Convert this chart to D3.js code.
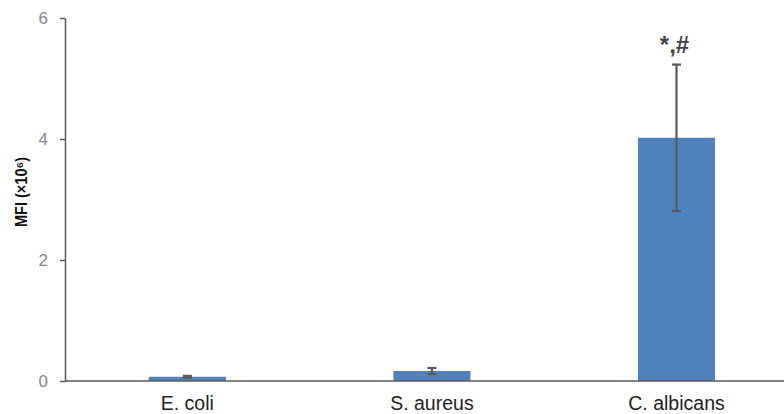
<!DOCTYPE html>
<html lang="en">
<head>
  <meta charset="UTF-8">
  <script src="https://cdn.jsdelivr.net/npm/d3@7"></script>
  <style>
    body { margin: 0; background: #fff; }
    svg { display: block; font-family: "Liberation Sans", Arial, sans-serif; }
    .axis path, .axis line { stroke: #595959; stroke-width: 1.5; }
    .y.axis text { fill: #888; font-size: 17px; }
    .x.axis text { fill: #222; font-size: 19.5px; }
  </style>
</head>
<body>
<div id="chart"></div>
<script>
  var categories = ["E. coli", "S. aureus", "C. albicans"];
  var means = [0.07, 0.165, 4.02];
  var errors = [0.015, 0.05, 1.21];
  var marks = ["", "", "*,#"];
  var yTicks = [0, 2, 4, 6];

  var width = 784, height = 414;
  var plotLeft = 65, plotTop = 18, plotBottom = 381;

  var svg = d3.select("#chart").append("svg")
    .attr("width", width)
    .attr("height", height);

  var x = d3.scaleBand()
    .domain(categories)
    .range([plotLeft, plotLeft + 3 * 244.6])
    .paddingInner(0.685)
    .paddingOuter(0.3425);

  var y = d3.scaleLinear()
    .domain([0, 6])
    .range([plotBottom, plotTop]);

  // bars
  svg.selectAll(".bar")
    .data(categories)
    .enter().append("rect")
    .attr("x", function(d) { return x(d); })
    .attr("width", x.bandwidth())
    .attr("y", function(d, i) { return y(means[i]); })
    .attr("height", function(d, i) { return plotBottom - y(means[i]); })
    .attr("fill", "#4f81bd");

  // error bars
  var err = svg.selectAll(".err")
    .data(categories)
    .enter().append("g")
    .attr("stroke", "#595959")
    .attr("stroke-width", 2.2);
  err.append("line")
    .attr("x1", function(d) { return x(d) + x.bandwidth() / 2; })
    .attr("x2", function(d) { return x(d) + x.bandwidth() / 2; })
    .attr("y1", function(d, i) { return y(means[i] + errors[i]); })
    .attr("y2", function(d, i) { return y(means[i] - errors[i]); });
  [1, -1].forEach(function(s) {
    err.append("line")
      .attr("x1", function(d) { return x(d) + x.bandwidth() / 2 - 4.5; })
      .attr("x2", function(d) { return x(d) + x.bandwidth() / 2 + 4.5; })
      .attr("y1", function(d, i) { return y(means[i] + s * errors[i]); })
      .attr("y2", function(d, i) { return y(means[i] + s * errors[i]); });
  });

  // significance marks
  svg.selectAll(".mark")
    .data(categories)
    .enter().append("text")
    .attr("x", function(d) { return x(d) + x.bandwidth() / 2 - 2; })
    .attr("y", function(d, i) { return y(means[i] + errors[i]) - 12; })
    .attr("text-anchor", "middle")
    .style("font-size", "24px")
    .style("font-weight", "bold")
    .style("fill", "#444")
    .text(function(d, i) { return marks[i]; });

  // axes
  svg.append("g")
    .attr("class", "y axis")
    .attr("transform", "translate(" + plotLeft + ",0)")
    .call(d3.axisLeft(y).tickValues(yTicks).tickFormat(d3.format("d"))
      .tickSize(5).tickSizeOuter(0).tickPadding(12));

  var xAxis = svg.append("g")
    .attr("class", "x axis")
    .attr("transform", "translate(0," + plotBottom + ")")
    .call(d3.axisBottom(x).tickSize(0).tickSizeOuter(0).tickPadding(15));
  xAxis.select(".domain").attr("d", "M" + plotLeft + ",0H" + width);

  // y label
  svg.append("text")
    .attr("transform", "translate(27," + 192 + ") rotate(-90)")
    .attr("text-anchor", "middle")
    .attr("textLength", 70)
    .attr("lengthAdjust", "spacingAndGlyphs")
    .style("font-size", "16px")
    .style("font-weight", "bold")
    .style("fill", "#111")
    .text("MFI (×10⁶)");
</script>
</body>
</html>
